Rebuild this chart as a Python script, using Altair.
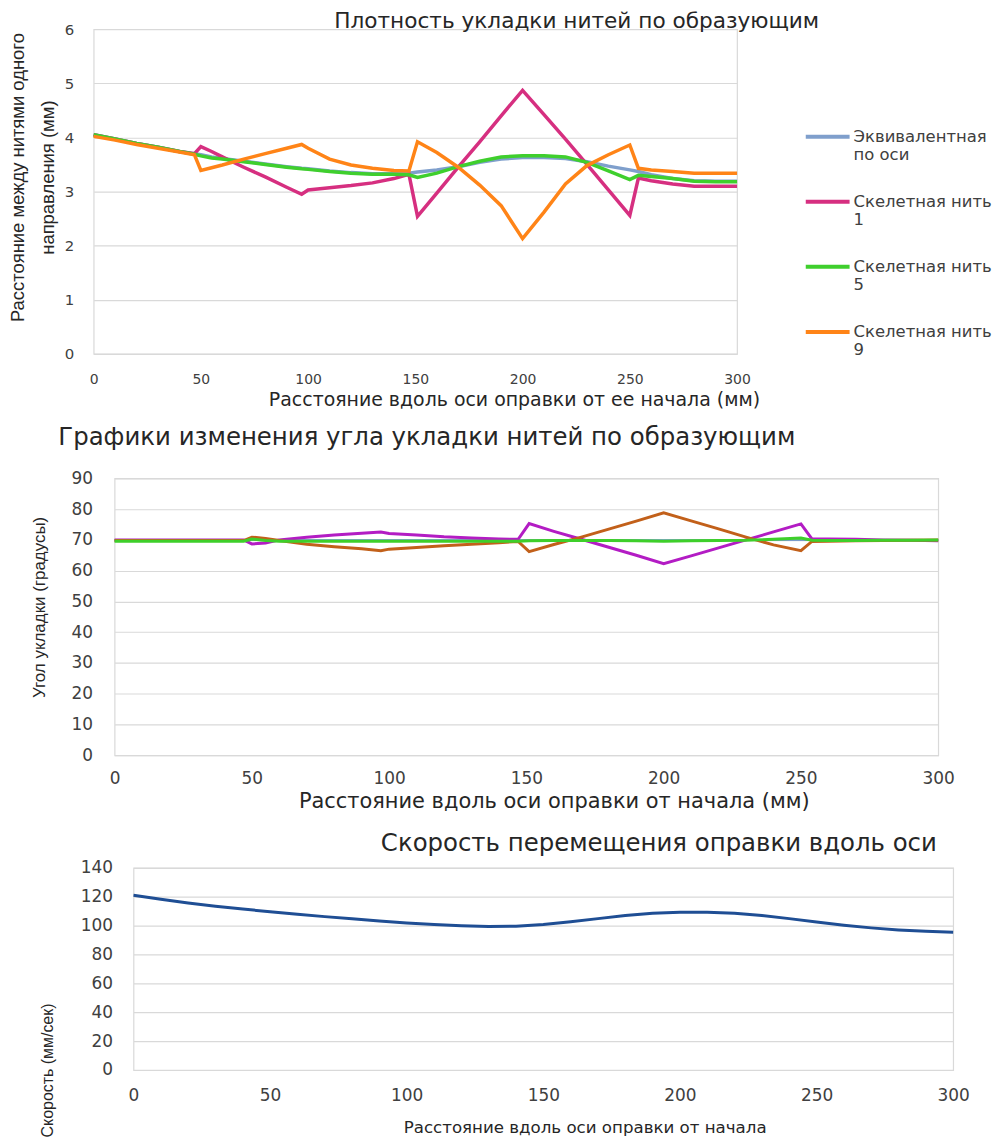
import altair as alt
import pandas as pd

FONT = "DejaVu Sans"
NARROW = "Liberation Sans"
LBL = "#404040"
TTL = "#262626"
GRID = "#d9d9d9"

# ---------------- chart 1 data ----------------
X_POS = [0, 10, 20, 30, 40, 47, 50, 55, 60, 70, 80, 90, 97, 100, 110, 120, 130, 140, 147, 151,
         160, 170, 180, 190, 200, 210, 220, 230, 240, 250, 254, 260, 270, 280, 290, 300]

D_EQUIV = [4.05, 3.97, 3.89, 3.82, 3.74, 3.70, 3.68, 3.64, 3.61, 3.56, 3.51, 3.46, 3.43, 3.42, 3.38,
           3.35, 3.33, 3.33, 3.34, 3.36, 3.40, 3.46, 3.54, 3.60, 3.63, 3.63, 3.61, 3.55, 3.47, 3.40,
           3.37, 3.31, 3.24, 3.20, 3.19, 3.19]
D_T1 = [4.05, 3.97, 3.89, 3.82, 3.74, 3.70, 3.83, 3.74, 3.64, 3.45, 3.27, 3.08, 2.95, 3.03, 3.07,
        3.11, 3.16, 3.24, 3.32, 2.54, 2.97, 3.45, 3.92, 4.40, 4.87, 4.42, 3.97, 3.50, 3.03, 2.56,
        3.25, 3.20, 3.14, 3.10, 3.10, 3.10]
D_T5 = [4.05, 3.97, 3.89, 3.82, 3.74, 3.69, 3.66, 3.62, 3.60, 3.55, 3.50, 3.45, 3.42, 3.41, 3.37,
        3.34, 3.32, 3.32, 3.31, 3.26, 3.34, 3.46, 3.56, 3.64, 3.66, 3.66, 3.64, 3.54, 3.38, 3.22,
        3.30, 3.28, 3.24, 3.19, 3.18, 3.18]
D_T9 = [4.02, 3.95, 3.87, 3.80, 3.73, 3.68, 3.39, 3.44, 3.49, 3.60, 3.70, 3.80, 3.87, 3.80, 3.60,
        3.49, 3.43, 3.39, 3.38, 3.92, 3.72, 3.45, 3.12, 2.74, 2.13, 2.62, 3.14, 3.48, 3.68, 3.86,
        3.43, 3.40, 3.37, 3.34, 3.34, 3.34]

NAMES1 = ["Эквивалентная по оси", "Скелетная нить 1", "Скелетная нить 5", "Скелетная нить 9"]
COLORS1 = ["#7f9fcc", "#d62f80", "#3fcf2d", "#ff8417"]

# ---------------- chart 2 data ----------------
A_EQUIV = [70.0, 70.0, 70.0, 70.0, 70.0, 70.0, 70.0, 70.0, 70.0, 70.0, 70.0, 70.0, 70.0, 70.0, 70.0,
           70.0, 70.0, 70.0, 70.0, 70.0, 70.0, 70.0, 70.0, 70.0, 70.0, 70.0, 70.0, 70.0, 70.0, 70.0,
           70.0, 70.0, 70.0, 70.0, 70.0, 70.0]
A_T1 = [70.0, 70.0, 70.0, 70.0, 70.0, 70.0, 68.7, 69.0, 70.0, 70.9, 71.6, 72.2, 72.6, 72.1, 71.6,
        71.0, 70.6, 70.3, 70.2, 75.3, 72.8, 70.2, 67.6, 65.0, 62.3, 64.8, 67.4, 70.0, 72.6, 75.2,
        70.3, 70.3, 70.2, 70.0, 69.9, 69.7]
A_T5 = [69.6, 69.6, 69.6, 69.6, 69.6, 69.6, 70.3, 69.8, 69.6, 69.6, 69.6, 69.6, 69.6, 69.6, 69.6,
        69.6, 69.6, 69.6, 69.6, 69.7, 69.8, 69.8, 69.8, 69.7, 69.6, 69.7, 69.8, 69.9, 70.2, 70.6,
        69.9, 69.8, 69.8, 69.9, 69.9, 70.0]
A_T9 = [69.8, 69.8, 69.8, 69.8, 69.8, 69.8, 70.9, 70.5, 69.8, 68.6, 67.8, 67.1, 66.5, 67.0, 67.5,
        68.1, 68.6, 69.1, 69.5, 66.2, 68.5, 70.9, 73.5, 76.1, 78.8, 76.2, 73.6, 70.9, 68.4, 66.5,
        69.5, 69.6, 69.7, 69.8, 69.9, 70.0]
NAMES2 = ["эквивалентная", "нить 1", "нить 9", "нить 5"]
COLORS2 = ["#5a86c6", "#b31cc4", "#c2601a", "#3ecf2a"]
WIDTHS2 = [1.5, 3, 3, 3]

# ---------------- chart 3 data ----------------
S_X = [0, 10, 20, 30, 40, 50, 60, 70, 80, 90, 100, 110, 120, 130, 140, 150, 160, 170, 180, 190,
       200, 210, 220, 230, 240, 250, 260, 270, 280, 290, 300]
SPEED = [121.0, 118.2, 115.6, 113.4, 111.4, 109.6, 107.8, 106.2, 104.7, 103.2, 101.8, 100.7, 99.8,
         99.3, 99.6, 100.8, 102.6, 104.8, 106.9, 108.5, 109.2, 109.3, 108.6, 107.0, 104.8, 102.4,
         100.2, 98.4, 97.0, 96.0, 95.3]

X_TICKS = [0, 50, 100, 150, 200, 250, 300]


def x_axis(title, tsize, lsize, lpad, tx, ty):
    return alt.Axis(values=X_TICKS, title=title, titleFont=FONT, titleFontSize=tsize,
                    titleFontWeight="normal", titleColor=TTL, titleX=tx, titleY=ty,
                    titleAlign="center", titleBaseline="top",
                    labelFont=FONT, labelFontSize=lsize, labelColor=LBL, labelPadding=lpad,
                    labelFlush=False, labelOverlap=False,
                    ticks=False, tickSize=0, domain=False, grid=False)


def y_axis(values, title, tsize, lsize, lpad, tx, ty, lh=None):
    kw = dict(values=values, title=title, titleFont=NARROW, titleFontSize=tsize,
              titleFontWeight="normal", titleColor=TTL, titleX=tx, titleY=ty,
              titleAngle=270, titleAlign="center", titleBaseline="top",
              labelFont=FONT, labelFontSize=lsize, labelColor=LBL, labelPadding=lpad,
              labelOverlap=False, ticks=False, tickSize=0, domain=False,
              grid=True, gridColor=GRID, gridWidth=1.2)
    if lh is not None:
        kw["titleLineHeight"] = lh
    return alt.Axis(**kw)


# ---------------- chart 1 ----------------
rows = []
for name, vals in zip(NAMES1, [D_EQUIV, D_T1, D_T5, D_T9]):
    for xv, v in zip(X_POS, vals):
        rows.append({"x": xv, "v": v, "s": name})
df1 = pd.DataFrame(rows)

label_expr = ("indexof(datum.label, 'нить') >= 0 ? "
              "[slice(datum.label, 0, lastindexof(datum.label, ' ')), slice(datum.label, lastindexof(datum.label, ' ') + 1)] : "
              "[slice(datum.label, 0, indexof(datum.label, ' ')), slice(datum.label, indexof(datum.label, ' ') + 1)]")

base1 = alt.Chart(df1).mark_line(strokeWidth=3.5).encode(
    x=alt.X("x:Q", scale=alt.Scale(domain=[0, 300], nice=False),
            axis=x_axis("Расстояние вдоль оси оправки от ее начала (мм)", 19, 14, 19, 422, 37)),
    y=alt.Y("v:Q", scale=alt.Scale(domain=[0, 6], nice=False),
            axis=y_axis([0, 1, 2, 3, 4, 5, 6],
                        ["Расстояние между нитями одного", "направления (мм)"],
                        18.5, 15, 20, -85, 148.5, lh=30)),
    color=alt.Color("s:N", scale=alt.Scale(domain=NAMES1, range=COLORS1), title=None,
                    legend=alt.Legend(orient="none", legendX=713, legendY=84, padding=0,
                                      symbolType="stroke", symbolSize=1936, symbolStrokeWidth=4,
                                      labelFont=FONT, labelFontSize=16.5, labelColor=LBL,
                                      labelBaseline="middle", labelOffset=2, rowPadding=14.3,
                                      labelLimit=300, labelExpr=label_expr)),
)
chart1 = alt.layer(*[base1.transform_filter(alt.datum.s == n) for n in NAMES1]).properties(
    width=646, height=326,
    title=alt.TitleParams("Плотность укладки нитей по образующим", font=FONT, fontSize=21.7,
                          fontWeight="normal", color=TTL, anchor="middle", frame="group",
                          dx=162, offset=-10),
    view=alt.ViewBackground(stroke=GRID, strokeWidth=1.2),
)

# ---------------- chart 2 ----------------
rows = []
for name, vals in zip(NAMES2, [A_EQUIV, A_T1, A_T9, A_T5]):
    for xv, v in zip(X_POS, vals):
        rows.append({"x": xv, "v": v, "s": name})
df2 = pd.DataFrame(rows)

enc2 = dict(
    x=alt.X("x:Q", scale=alt.Scale(domain=[0, 300], nice=False),
            axis=x_axis("Расстояние вдоль оси оправки от начала (мм)", 21, 17, 15, 441, 35)),
    y=alt.Y("v:Q", scale=alt.Scale(domain=[0, 90], nice=False),
            axis=y_axis(list(range(0, 91, 10)), "Угол укладки (градусы)", 17, 17, 22, -83, 129)),
)
layers2 = [alt.Chart(df2).transform_filter(alt.datum.s == n).mark_line(color=c, strokeWidth=w).encode(**enc2)
           for n, c, w in zip(NAMES2, COLORS2, WIDTHS2)]
chart2 = alt.layer(*layers2).properties(
    width=827, height=278,
    title=alt.TitleParams("Графики изменения угла укладки нитей по образующим", font=FONT,
                          fontSize=24.5, fontWeight="normal", color=TTL, anchor="middle",
                          frame="group", dx=-100, offset=19),
    view=alt.ViewBackground(stroke=GRID, strokeWidth=1.2),
)

# ---------------- chart 3 ----------------
df3 = pd.DataFrame({"x": S_X, "v": SPEED})
chart3 = alt.Chart(df3).mark_line(color="#1f4e94", strokeWidth=3).encode(
    x=alt.X("x:Q", scale=alt.Scale(domain=[0, 300], nice=False),
            axis=x_axis("Расстояние вдоль оси оправки от начала", 16.7, 17, 18, 453, 50)),
    y=alt.Y("v:Q", scale=alt.Scale(domain=[0, 140], nice=False),
            axis=y_axis(list(range(0, 141, 20)), "Скорость (мм/сек)", 16, 17, 21, -94, 203)),
).properties(
    width=823, height=203,
    title=alt.TitleParams("Скорость перемещения оправки вдоль оси", font=FONT, fontSize=24.5,
                          fontWeight="normal", color=TTL, anchor="middle", frame="group",
                          dx=116, offset=2),
    view=alt.ViewBackground(stroke=GRID, strokeWidth=1.2),
)


def spacer(w, h):
    return alt.Chart(pd.DataFrame({"a": [0]})).mark_point(opacity=0).properties(
        width=w, height=h,
        view=alt.ViewBackground(fill="white", fillOpacity=0, stroke="white", strokeOpacity=0))


row1 = alt.hconcat(spacer(85, 396), chart1, spacing=0, bounds="flush").resolve_scale(color="independent")
row2 = alt.hconcat(spacer(106, 353), chart2, spacing=0, bounds="flush")
row3 = alt.hconcat(spacer(125, 203), chart3, spacing=0, bounds="flush")
chart = alt.vconcat(row1, row2, row3, spacing=0).properties(
    padding={"left": 0, "top": -1, "right": 0, "bottom": 0}
).resolve_scale(color="independent")

chart.save("out.html", embed_options={"renderer": "svg", "actions": False})
